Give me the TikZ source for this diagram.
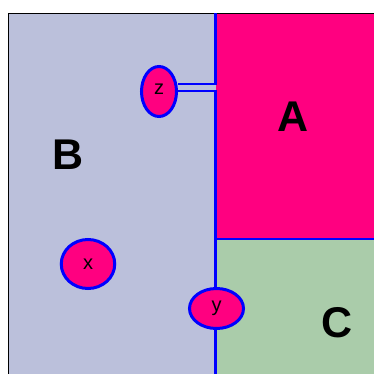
\documentclass[tikz,border=0pt]{standalone}
\usepackage{fontspec}
\setmainfont{Liberation Sans}
\usetikzlibrary{shapes.geometric}
\definecolor{bcol}{RGB}{187,192,219}
\definecolor{pinkc}{RGB}{255,0,128}
\definecolor{greenc}{RGB}{170,204,170}
\begin{document}
\begin{tikzpicture}[x=1pt,y=-1pt,
  blob/.style={ellipse, draw=blue, line width=3pt, fill=pinkc, inner sep=0pt,
    font=\fontsize{20}{20}\selectfont},
  big/.style={inner sep=0pt, font=\bfseries\fontsize{43}{43}\selectfont},
  wall/.style={draw=blue, line width=2.6pt, line join=miter}]
\useasboundingbox (0,0) rectangle (374,374);
\fill[white] (0,0) rectangle (374,374);
\fill[bcol] (8.5,13.5) rectangle (215.5,374);
\fill[pinkc] (215.5,13.5) rectangle (374,239);
\fill[greenc] (215.5,239) rectangle (374,374);
\draw[line width=1.5pt] (8.5,374) -- (8.5,13.5) -- (374,13.5);
\node[big] (A) at (293,117) {A};
\node[big] (B) at (68,155) {B};
\node[big] (C) at (337,322.5) {C};
\node[blob, minimum width=35pt, minimum height=50pt] (z) at (159,91.5) {\raisebox{5pt}{z}};
\coordinate (ct) at (215.5,84);
\coordinate (cb) at (215.5,91);
\draw[wall] (215.5,13.5) -- (ct) -- (z.east |- ct);
\draw[wall] (z.east |- cb) -- (cb) -- (215.5,374);
\draw[wall] (215.5,239) -- (374,239);
\node[blob, minimum width=53.5pt, minimum height=49pt] (x) at (88,264) {x};
\node[blob, minimum width=54pt, minimum height=40pt] (y) at (216.5,308.5) {y};
\end{tikzpicture}
\end{document}
